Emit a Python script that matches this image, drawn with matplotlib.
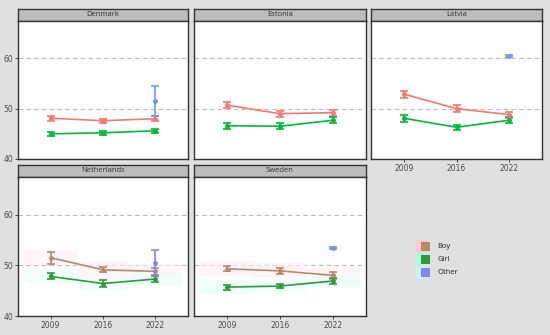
import matplotlib
matplotlib.use("Agg")
import matplotlib.pyplot as plt
from matplotlib.patches import Rectangle

years = ["2009", "2016", "2022"]
countries = ["Denmark", "Estonia", "Latvia", "Netherlands", "Sweden"]

boy_mean = {
    "Denmark": [48.1, 47.6, 48.0],
    "Estonia": [50.7, 49.0, 49.2],
    "Latvia": [52.9, 50.0, 48.8],
    "Netherlands": [51.5, 49.1, 48.8],
    "Sweden": [49.3, 48.9, 48.0],
}
boy_err = {
    "Denmark": [0.5, 0.4, 0.5],
    "Estonia": [0.6, 0.6, 0.6],
    "Latvia": [0.7, 0.7, 0.6],
    "Netherlands": [1.2, 0.5, 0.7],
    "Sweden": [0.5, 0.6, 0.7],
}
girl_mean = {
    "Denmark": [45.0, 45.2, 45.6],
    "Estonia": [46.6, 46.5, 47.7],
    "Latvia": [48.1, 46.3, 47.7],
    "Netherlands": [47.8, 46.4, 47.3],
    "Sweden": [45.7, 45.9, 46.9],
}
girl_err = {
    "Denmark": [0.4, 0.4, 0.4],
    "Estonia": [0.6, 0.6, 0.6],
    "Latvia": [0.7, 0.5, 0.6],
    "Netherlands": [0.6, 0.6, 0.6],
    "Sweden": [0.5, 0.4, 0.5],
}
other_mean = {"Denmark": 51.5, "Latvia": 60.5, "Netherlands": 50.4, "Sweden": 53.4}
other_err = {"Denmark": 2.95, "Latvia": 0.2, "Netherlands": 2.6, "Sweden": 0.15}

top_colors = {"Boy": "#F8766D", "Girl": "#00BA38", "Other": "#619CFF"}
bot_colors = {"Boy": "#B8896A", "Girl": "#2E9B3A", "Other": "#7F86F5"}
legend_labels = ["Boy", "Girl", "Other"]
legend_bg = {"Boy": "#FFC8D8", "Girl": "#A8FFE0", "Other": "#C8F4F4"}

W, H = 550, 335
fig = plt.figure(figsize=(5.5, 3.35), dpi=100)
fig.patch.set_facecolor("#E0E0E0")

def box(x0, y0, x1, y1):
    return [x0 / W, 1 - y1 / H, (x1 - x0) / W, (y1 - y0) / H]

cols = [(18, 188), (194, 366), (371, 542)]
rows = [(9, 21, 159), (165, 177, 316)]
layout = {
    "Denmark": (0, 0), "Estonia": (0, 1), "Latvia": (0, 2),
    "Netherlands": (1, 0), "Sweden": (1, 1),
}
xs = [1, 2, 3]

for c in countries:
    r, k = layout[c]
    x0, x1 = cols[k]
    s0, p0, p1 = rows[r]
    colors = top_colors if r == 0 else bot_colors
    # strip
    sax = fig.add_axes(box(x0, s0, x1, p0))
    sax.set_facecolor("#BDBDBD")
    sax.set_xticks([]); sax.set_yticks([])
    for sp in sax.spines.values():
        sp.set_color("#333333"); sp.set_linewidth(1.0)
    sax.text(0.5, 0.5, c, ha="center", va="center", fontsize=5.5, color="#333333",
             family="Open Sans", transform=sax.transAxes)
    ax = fig.add_axes(box(x0, p0, x1, p1))
    ax.set_facecolor("white")
    ax.set_xlim(0.38, 3.62)
    ax.set_ylim(40, 67.4)
    for yv in [40, 50, 60]:
        ax.axhline(yv, color="#BBBBBB", lw=0.8, ls=(0, (4, 3)), zorder=0)
    if r == 1:
        for i, x in enumerate(xs):
            ax.add_patch(Rectangle((x - 0.5, boy_mean[c][i] - 1.5), 1.0, 3.0,
                                   color="#FFEEF3", alpha=0.6, lw=0, zorder=0.5))
            ax.add_patch(Rectangle((x - 0.5, girl_mean[c][i] - 1.3), 1.0, 2.6,
                                   color="#E8FFF8", alpha=0.6, lw=0, zorder=0.5))
    ax.errorbar(xs, boy_mean[c], yerr=boy_err[c], color=colors["Boy"], lw=1.2,
                marker="o", ms=2.5, capsize=3, capthick=1.2, elinewidth=1.2, zorder=3)
    ax.errorbar(xs, girl_mean[c], yerr=girl_err[c], color=colors["Girl"], lw=1.2,
                marker="o", ms=2.5, capsize=3, capthick=1.2, elinewidth=1.2, zorder=3)
    if c in other_mean:
        ax.errorbar([3], [other_mean[c]], yerr=[other_err[c]], color=colors["Other"],
                    lw=1.2, marker="o", ms=2.5, capsize=3, capthick=1.2,
                    elinewidth=1.2, zorder=4)
    for sp in ax.spines.values():
        sp.set_color("#333333"); sp.set_linewidth(1.0)
    ax.set_yticks([40, 50, 60])
    ax.set_xticks(xs)
    ax.tick_params(length=2, width=0.6, colors="#333333", labelsize=5.5,
                   labelcolor="#4D4D4D", pad=1.5)
    if k == 0:
        ax.set_yticklabels(["40", "50", "60"])
    else:
        ax.tick_params(axis="y", left=False, labelleft=False)
    if r == 1 or c == "Latvia":
        ax.set_xticklabels(years)
    else:
        ax.tick_params(axis="x", bottom=False, labelbottom=False)

# legend
lax = fig.add_axes([0, 0, 1, 1])
lax.set_xlim(0, W); lax.set_ylim(H, 0)
lax.axis("off")
for i, lab in enumerate(legend_labels):
    yc = 246 + i * 13.3
    lax.add_patch(Rectangle((416, yc - 6), 13, 12, color=legend_bg[lab], lw=0))
    lax.add_patch(Rectangle((421, yc - 4.5), 8.5, 9, color=bot_colors[lab], lw=0))
    lax.text(437, yc, lab, fontsize=5.5, va="center", ha="left", color="#222222",
             family="Open Sans")

fig.savefig("out.png", dpi=100, facecolor=fig.get_facecolor())
